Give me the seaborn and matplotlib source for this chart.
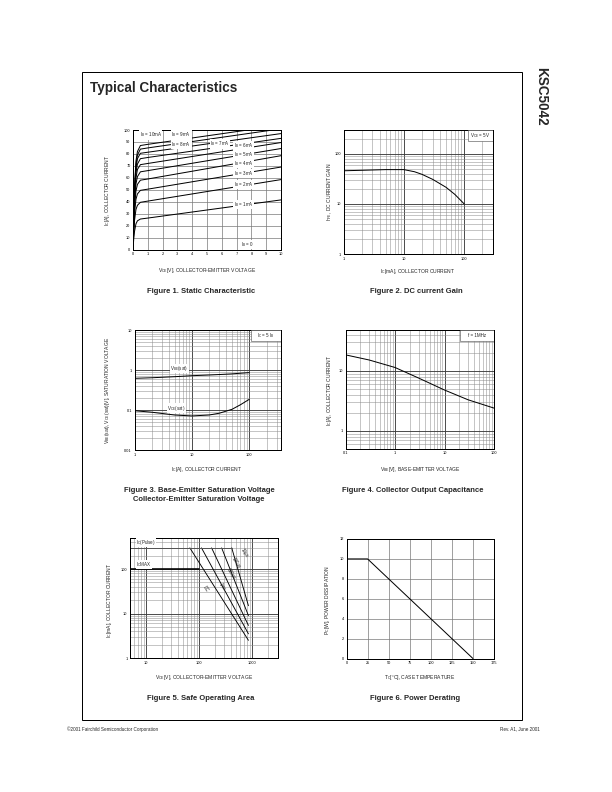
import numpy as np
import pandas as pd
import matplotlib
matplotlib.use("Agg")
import matplotlib.pyplot as plt
import seaborn as sns
from matplotlib.ticker import LogLocator, NullFormatter
from matplotlib.patches import Rectangle

sns.set_style("white")
plt.rcParams['font.family'] = ['Liberation Sans', 'DejaVu Sans']
plt.rcParams['mathtext.default'] = 'regular'

# ---------------- data ----------------
# Figure 1: static characteristic (Ic vs Vce for each Ib)
fig1_vce = [0, 0.05, 0.1, 0.2, 0.3, 0.5, 1, 10]
ic_ib1 = [0, 9, 15, 21.5, 24, 25.5, 26.3, 41.5]
ic_ib2 = [0, 14, 24, 33.5, 37, 39.5, 40.5, 58.5]
ic_ib3 = [0, 17, 30, 42, 46.5, 49.5, 50.5, 69]
ic_ib4 = [0, 20, 35, 49, 54.5, 58, 59, 78.5]
ic_ib5 = [0, 23, 39, 55, 61, 65, 66, 84.5]
ic_ib6 = [0, 25, 43, 60, 67, 71, 72, 89.5]
ic_ib7 = [0, 27, 46, 64.5, 71.5, 76, 77, 93]
ic_ib8 = [0, 28, 48, 68, 76, 80.5, 81.4, 97]
ic_ib9 = [0, 29, 50, 71, 79, 84, 85, 101]
ic_ib10 = [0, 30, 52, 74, 82, 87, 88, 104]
fig1_curve_labels = ["I$_B$ = 1mA", "I$_B$ = 2mA", "I$_B$ = 3mA", "I$_B$ = 4mA",
                     "I$_B$ = 5mA", "I$_B$ = 6mA", "I$_B$ = 7mA", "I$_B$ = 8mA",
                     "I$_B$ = 9mA", "I$_B$ = 10mA"]

# Figure 2: DC current gain
fig2_ic = [1, 2, 5, 10, 15, 20, 30, 50, 70, 100]
fig2_hfe = [46, 47, 48.5, 48.5, 44, 39, 31, 21.5, 15.5, 10]

# Figure 3: saturation voltages
fig3_ic = [1, 2, 5, 10, 20, 30, 50, 70, 100]
fig3_vbe = [0.62, 0.64, 0.68, 0.72, 0.75, 0.77, 0.80, 0.83, 0.86]
fig3_vce = [0.096, 0.088, 0.075, 0.071, 0.075, 0.083, 0.104, 0.135, 0.185]

# Figure 4: collector output capacitance
fig4_v = [0.1, 0.3, 1, 3, 10, 30, 100]
fig4_c = [18.5, 15.2, 11.4, 7.6, 4.8, 3.3, 2.4]

# Figure 5: safe operating area
soa_names = ["DC", "1ms", "500\u00b5s", "100\u00b5s", "10\u00b5s"]
soa_x_start = [67, 111, 172, 266, 412]
soa_x_end = [850, 850, 850, 850, 850]
soa_y_start = [300, 300, 300, 300, 300]
soa_y_end = [2.5, 3.5, 5.4, 9, 15]
soa_label_x = [132, 270, 400, 500, 720]
soa_label_y = [36, 40, 80, 140, 230]
pulse_x = [5, 420]
pulse_y = [300, 300]
icmax_x = [5, 100]
icmax_y = [100, 100]

# Figure 6: power derating
fig6_tc = [0, 25, 150]
fig6_pc = [10, 10, 0]

# ---------------- layout ----------------
W, H = 612, 792
fig = plt.figure(figsize=(W / 72, H / 72), dpi=72)
fig.patch.set_facecolor("white")


def add_ax(l, t, r, b):
    return fig.add_axes([l / W, 1 - b / H, (r - l) / W, (b - t) / H])


def ftext(x, y, s, **kw):
    return fig.text(x / W, 1 - y / H, s, **kw)


TICK_FS = 3.9
LAB_FS = 5.0
CAP_FS = 7.6
IN_FS = 4.5
GRID_MAJ = '#3c3c3c'
GRID_MIN = '#8c8c8c'
GRID_LIN = '#7a7a7a'


def style(ax):
    for s in ax.spines.values():
        s.set_color('black')
        s.set_linewidth(1.0)
    ax.tick_params(labelsize=TICK_FS, length=0, pad=2.5, colors='black')
    ax.set_xlabel('')
    ax.set_ylabel('')


def log_grid(ax, which_axes):
    for a in which_axes:
        axis = ax.xaxis if a == 'x' else ax.yaxis
        axis.set_minor_locator(LogLocator(base=10, subs=np.arange(2, 10), numticks=30))
        axis.set_minor_formatter(NullFormatter())
    ax.grid(True, which='major', color=GRID_MAJ, lw=0.9)
    ax.grid(True, which='minor', color=GRID_MIN, lw=0.5)
    ax.tick_params(which='minor', length=0)
    ax.set_axisbelow(True)


def corner_box(ax, x0, y0, s):
    ax.add_patch(Rectangle((x0, y0), 1 - x0, 1 - y0, transform=ax.transAxes,
                           facecolor='white', edgecolor='#555555', lw=0.6, zorder=5))
    ax.text((1 + x0) / 2, (1 + y0) / 2, s, transform=ax.transAxes, ha='center',
            va='center', fontsize=4.5, zorder=6)


# ---- page frame ----
fig.add_artist(Rectangle((82 / W, 1 - 720 / H), (522 - 82) / W, (720 - 72) / H,
                         transform=fig.transFigure, fill=False, lw=1.0, ec='black'))
ftext(90, 88, "Typical Characteristics", fontsize=13.5, fontweight='bold', va='center')
ftext(541, 67, "KSC5042", fontsize=13.5, fontweight='bold', rotation=-90,
      ha='center', va='top')
ftext(67, 729, "\u00a92001 Fairchild Semiconductor Corporation", fontsize=4.6, va='center')
ftext(540, 729, "Rev. A1, June 2001", fontsize=4.6, va='center', ha='right')

# ---- Figure 1 ----
ax1 = add_ax(133, 130, 281, 249.5)
curves = [ic_ib1, ic_ib2, ic_ib3, ic_ib4, ic_ib5, ic_ib6, ic_ib7, ic_ib8, ic_ib9, ic_ib10]
for yv in curves:
    sns.lineplot(x=fig1_vce, y=yv, ax=ax1, color='black', lw=1.0)
ax1.set_xlim(0, 10)
ax1.set_ylim(0, 100)
ax1.set_xticks(range(0, 11))
ax1.set_yticks(range(0, 101, 10))
ax1.grid(True, color=GRID_LIN, lw=0.7)
style(ax1)
lab_pos1 = [(6.8, 37.7), (6.8, 54.5), (6.8, 63.7), (6.8, 72), (6.8, 79.6), (6.8, 86.6),
            (5.2, 88.3), (2.6, 88), (2.6, 95.8), (0.45, 95.8)]
bb = dict(facecolor='white', edgecolor='none', pad=0.2)
for (lx, ly), s in zip(lab_pos1, fig1_curve_labels):
    ax1.text(lx, ly, s, fontsize=IN_FS, va='center', ha='left', bbox=bb, zorder=4)
ax1.text(7.3, 4.0, "I$_B$ = 0", fontsize=IN_FS, va='center', ha='left', bbox=bb, zorder=4)
ftext(107, 190, "I$_C$[A], COLLECTOR CURRENT", fontsize=LAB_FS, rotation=90,
      ha='center', va='center')
ftext(207, 270.5, "V$_{CE}$[V], COLLECTOR-EMITTER VOLTAGE", fontsize=LAB_FS,
      ha='center', va='center')
ftext(201, 291.5, "Figure 1. Static Characteristic", fontsize=CAP_FS,
      fontweight='bold', ha='center', va='center')

# ---- Figure 2 ----
ax2 = add_ax(343.5, 130, 493, 254)
sns.lineplot(x=fig2_ic, y=fig2_hfe, ax=ax2, color='black', lw=1.0)
ax2.set_xscale('log')
ax2.set_yscale('log')
ax2.set_xlim(1, 300)
ax2.set_ylim(1, 300)
ax2.set_xticks([1, 10, 100], labels=['1', '10', '100'])
ax2.set_yticks([1, 10, 100], labels=['1', '10', '100'])
log_grid(ax2, 'xy')
style(ax2)
corner_box(ax2, 0.83, 0.915, "V$_{CE}$ = 5V")
ftext(330, 192, "h$_{FE}$, DC CURRENT GAIN", fontsize=LAB_FS, rotation=90,
      ha='center', va='center')
ftext(418, 272, "I$_C$[mA], COLLECTOR CURRENT", fontsize=LAB_FS, ha='center', va='center')
ftext(416, 291.5, "Figure 2. DC current Gain", fontsize=CAP_FS, fontweight='bold',
      ha='center', va='center')

# ---- Figure 3 ----
ax3 = add_ax(134.5, 330, 280.5, 450)
sns.lineplot(x=fig3_ic, y=fig3_vbe, ax=ax3, color='black', lw=1.0)
sns.lineplot(x=fig3_ic, y=fig3_vce, ax=ax3, color='black', lw=1.0)
ax3.set_xscale('log')
ax3.set_yscale('log')
ax3.set_xlim(1, 350)
ax3.set_ylim(0.01, 10)
ax3.set_xticks([1, 10, 100], labels=['1', '10', '100'])
ax3.set_yticks([0.01, 0.1, 1, 10], labels=['0.01', '0.1', '1', '10'])
log_grid(ax3, 'xy')
style(ax3)
corner_box(ax3, 0.8, 0.91, "I$_C$ = 5 I$_B$")
ax3.text(4.2, 1.1, "V$_{BE}$(sat)", fontsize=IN_FS, va='center', ha='left', bbox=bb, zorder=4)
ax3.text(3.7, 0.112, "V$_{CE}$(sat)", fontsize=IN_FS, va='center', ha='left', bbox=bb, zorder=4)
ftext(108, 390, "V$_{BE}$(sat), V$_{CE}$(sat)[V], SATURATION VOLTAGE", fontsize=LAB_FS,
      rotation=90, ha='center', va='center')
ftext(207, 470, "I$_C$[A], COLLECTOR CURRENT", fontsize=LAB_FS, ha='center', va='center')
ftext(199, 491, "Figure 3. Base-Emitter Saturation Voltage", fontsize=CAP_FS,
      fontweight='bold', ha='center', va='center')
ftext(199, 500, "Collector-Emitter Saturation Voltage", fontsize=CAP_FS,
      fontweight='bold', ha='center', va='center')

# ---- Figure 4 ----
ax4 = add_ax(345.5, 330, 494, 449)
sns.lineplot(x=fig4_v, y=fig4_c, ax=ax4, color='black', lw=1.0)
ax4.set_xscale('log')
ax4.set_yscale('log')
ax4.set_xlim(0.1, 100)
ax4.set_ylim(0.5, 48)
ax4.set_xticks([0.1, 1, 10, 100], labels=['0.1', '1', '10', '100'])
ax4.set_yticks([1, 10], labels=['1', '10'])
log_grid(ax4, 'xy')
style(ax4)
corner_box(ax4, 0.77, 0.91, "f = 1MHz")
ftext(330, 390, "I$_C$[A], COLLECTOR CURRENT", fontsize=LAB_FS, rotation=90,
      ha='center', va='center')
ftext(420, 469.5, "V$_{BE}$[V], BASE-EMITTER VOLTAGE", fontsize=LAB_FS,
      ha='center', va='center')
ftext(413, 491, "Figure 4. Collector Output Capacitance", fontsize=CAP_FS,
      fontweight='bold', ha='center', va='center')

# ---- Figure 5 ----
ax5 = add_ax(130, 538, 277.5, 658)
ax5.set_xscale('log')
ax5.set_yscale('log')
for xs, xe, ys, ye in zip(soa_x_start, soa_x_end, soa_y_start, soa_y_end):
    sns.lineplot(x=[xs, xe], y=[ys, ye], ax=ax5, color='black', lw=0.9)
sns.lineplot(x=pulse_x, y=pulse_y, ax=ax5, color='#555555', lw=1.0)
sns.lineplot(x=icmax_x, y=icmax_y, ax=ax5, color='black', lw=1.6)
ax5.set_xlim(5, 3000)
ax5.set_ylim(1, 500)
ax5.set_xticks([10, 100, 1000], labels=['10', '100', '1000'])
ax5.set_yticks([1, 10, 100], labels=['1', '10', '100'])
log_grid(ax5, 'xy')
style(ax5)
for lx, ly, s in zip(soa_label_x, soa_label_y, soa_names):
    ax5.text(lx, ly, s, fontsize=4.5, rotation=-57, ha='center', va='center', zorder=4)
ax5.text(6.5, 400, "I$_C$(Pulse)", fontsize=IN_FS, ha='left', va='center', bbox=bb, zorder=4)
ax5.text(6.5, 128, "I$_C$MAX", fontsize=IN_FS, ha='left', va='center', bbox=bb, zorder=4)
ftext(110, 600, "I$_C$[mA], COLLECTOR CURRENT", fontsize=LAB_FS, rotation=90,
      ha='center', va='center')
ftext(204, 677, "V$_{CE}$[V], COLLECTOR-EMITTER VOLTAGE", fontsize=LAB_FS,
      ha='center', va='center')
ftext(200.5, 699, "Figure 5. Safe Operating Area", fontsize=CAP_FS,
      fontweight='bold', ha='center', va='center')

# ---- Figure 6 ----
ax6 = add_ax(346.5, 539, 494, 658.5)
sns.lineplot(x=fig6_tc, y=fig6_pc, ax=ax6, color='black', lw=1.0)
ax6.set_xlim(0, 175)
ax6.set_ylim(0, 12)
ax6.set_xticks(range(0, 176, 25))
ax6.set_yticks(range(0, 13, 2))
ax6.grid(True, color=GRID_LIN, lw=0.7)
style(ax6)
ftext(327, 600, "P$_C$[W], POWER DISSIPATION", fontsize=LAB_FS, rotation=90,
      ha='center', va='center')
ftext(420, 677, "T$_C$[\u00b0C], CASE TEMPERATURE", fontsize=LAB_FS,
      ha='center', va='center')
ftext(415, 699, "Figure 6. Power Derating", fontsize=CAP_FS, fontweight='bold',
      ha='center', va='center')

fig.savefig("out.png", dpi=72)
